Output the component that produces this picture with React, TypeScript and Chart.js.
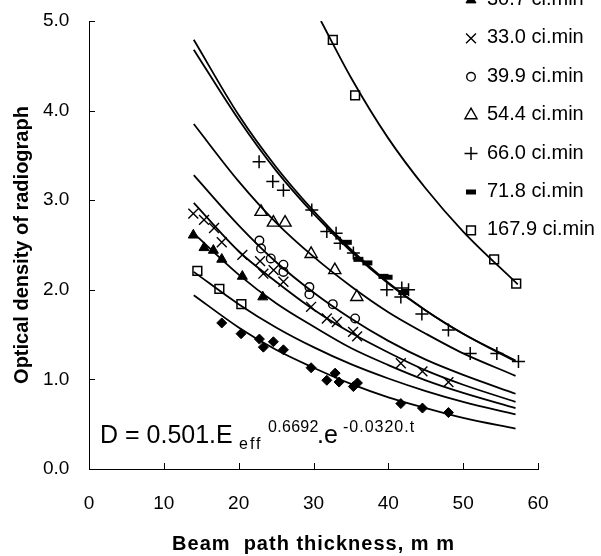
import React, { useEffect, useRef } from 'react';
import { Chart, registerables } from 'chart.js';

Chart.register(...registerables);

const FONT = "'Liberation Sans', Arial, Helvetica, sans-serif";

// axes
const X_TICKS = [0, 10, 20, 30, 40, 50, 60];
const Y_TICKS = [0, 1, 2, 3, 4, 5];

// measured points (t = beam path thickness mm, d = optical density)
const DIAMOND_T = [17.74, 20.32, 22.77, 23.3, 24.64, 25.98, 29.68, 31.78, 32.89, 33.42, 35.33, 35.87, 41.67, 44.56, 48.03];
const DIAMOND_D = [1.63, 1.51, 1.45, 1.36, 1.42, 1.33, 1.13, 0.99, 1.07, 0.97, 0.92, 0.96, 0.73, 0.68, 0.63];

const SQLOW_T = [14.48, 17.42, 20.36];
const SQLOW_D = [2.21, 2.01, 1.84];

const TRI_T = [13.94, 15.37, 16.62, 17.74, 20.49, 23.22];
const TRI_D = [2.61, 2.47, 2.44, 2.34, 2.15, 1.92];

const X_T = [13.94, 15.37, 16.71, 17.74, 20.49, 22.86, 23.3, 24.67, 25.98, 29.68, 31.78, 33.12, 35.29, 35.83, 41.67, 44.56, 48.03];
const X_D = [2.85, 2.78, 2.69, 2.53, 2.39, 2.32, 2.18, 2.22, 2.09, 1.81, 1.68, 1.64, 1.53, 1.48, 1.18, 1.09, 0.97];

const CIRC_T = [22.77, 22.99, 24.29, 25.98, 25.98, 29.45, 29.45, 32.58, 35.56];
const CIRC_D = [2.55, 2.46, 2.35, 2.28, 2.2, 2.03, 1.95, 1.84, 1.68];

const OTRI_T = [22.99, 24.64, 26.2, 29.68, 32.85, 35.79];
const OTRI_D = [2.87, 2.75, 2.75, 2.4, 2.22, 1.92];

const PLUS_T = [22.73, 24.56, 25.98, 29.77, 31.78, 33.02, 33.56, 35.33, 39.8, 41.8, 42.7, 41.67, 44.48, 48.03, 50.94, 54.5, 57.39];
const PLUS_D = [3.43, 3.21, 3.11, 2.89, 2.65, 2.63, 2.52, 2.41, 2.0, 2.02, 2.0, 1.92, 1.73, 1.55, 1.29, 1.29, 1.2];

const DASH_T = [34.45, 36.0, 37.2, 39.35, 39.9, 42.0];
const DASH_D = [2.53, 2.34, 2.3, 2.15, 2.14, 1.97];

const SQHI_T = [32.58, 35.56, 54.14, 57.09];
const SQHI_D = [4.79, 4.17, 2.34, 2.07];

// fitted curves
const CURVE_T = [14, 20, 25, 30, 35, 40, 45, 50, 57];
const CURVE_PLUS = [4.79, 3.95, 3.37, 2.88, 2.45, 2.08, 1.77, 1.51, 1.2];
const CURVE_DASH = [4.68, 3.9, 3.33, 2.85, 2.43, 2.07, 1.77, 1.51, 1.21];
const CURVE_OTRI = [3.85, 3.21, 2.75, 2.37, 2.04, 1.75, 1.51, 1.29, 1.04];
const CURVE_CIRC = [3.28, 2.72, 2.31, 1.97, 1.68, 1.43, 1.22, 1.05, 0.84];
const CURVE_X = [2.97, 2.43, 2.09, 1.78, 1.52, 1.3, 1.1, 0.94, 0.75];
const CURVE_TRI = [2.63, 2.17, 1.85, 1.59, 1.35, 1.16, 0.99, 0.85, 0.68];
const CURVE_SQLOW = [2.2, 1.84, 1.58, 1.36, 1.17, 1.01, 0.87, 0.75, 0.61];
const CURVE_DIAMOND = [1.94, 1.58, 1.33, 1.13, 0.95, 0.8, 0.68, 0.57, 0.45];
const CURVE_SQHI_T = [31, 35, 40, 45, 50, 57.3];
const CURVE_SQHI = [5.0, 4.37, 3.69, 3.13, 2.65, 2.06];

// legend (top entries are cut off above the picture)
const LEGEND_LABELS = ['30.7 ci.min', '33.0 ci.min', '39.9 ci.min', '54.4 ci.min', '66.0 ci.min', '71.8 ci.min', '167.9 ci.min'];

type Marker = { style: string; r: number; filled: boolean; bw: number };
const M_DIAMOND: Marker = { style: 'rectRot', r: 5, filled: true, bw: 1 };
const M_SQ: Marker = { style: 'rect', r: 6.2, filled: false, bw: 1.5 };
const M_TRI: Marker = { style: 'triangle', r: 5.8, filled: true, bw: 1 };
const M_X: Marker = { style: 'crossRot', r: 7, filled: false, bw: 1.4 };
const M_CIRC: Marker = { style: 'circle', r: 4.3, filled: false, bw: 1.4 };
const M_OTRI: Marker = { style: 'triangle', r: 7, filled: false, bw: 1.4 };
const M_PLUS: Marker = { style: 'cross', r: 6.5, filled: false, bw: 1.5 };
const M_DASH: Marker = { style: 'line', r: 5, filled: true, bw: 5 };

const LEGEND_MARKERS = [M_TRI, M_X, M_CIRC, M_OTRI, M_PLUS, M_DASH, M_SQ];

function pts(t: number[], d: number[]) {
  return t.map((v, i) => ({ x: v, y: d[i] }));
}

function pointDs(label: string, t: number[], d: number[], m: Marker) {
  return {
    type: 'scatter' as const,
    label,
    data: pts(t, d),
    showLine: false,
    pointStyle: m.style,
    pointRadius: m.r,
    pointBorderWidth: m.bw,
    pointBorderColor: '#000',
    pointBackgroundColor: m.filled ? '#000' : 'rgba(0,0,0,0)',
    borderColor: '#000',
    backgroundColor: m.filled ? '#000' : 'rgba(0,0,0,0)',
  };
}

function curveDs(label: string, t: number[], d: number[]) {
  return {
    type: 'line' as const,
    label,
    data: pts(t, d),
    showLine: true,
    pointRadius: 0,
    borderColor: '#000',
    borderWidth: 1.8,
    cubicInterpolationMode: 'monotone' as const,
    fill: false,
  };
}

function drawMarker(ctx: CanvasRenderingContext2D, m: Marker, x: number, y: number) {
  ctx.save();
  ctx.strokeStyle = '#000';
  ctx.fillStyle = '#000';
  ctx.lineWidth = m.bw;
  const r = m.r;
  ctx.beginPath();
  if (m.style === 'triangle') {
    ctx.moveTo(x, y - r);
    ctx.lineTo(x + r * 0.866, y + r * 0.5);
    ctx.lineTo(x - r * 0.866, y + r * 0.5);
    ctx.closePath();
  } else if (m.style === 'crossRot') {
    const o = r * 0.7071;
    ctx.moveTo(x - o, y - o); ctx.lineTo(x + o, y + o);
    ctx.moveTo(x + o, y - o); ctx.lineTo(x - o, y + o);
  } else if (m.style === 'cross') {
    ctx.moveTo(x - r, y); ctx.lineTo(x + r, y);
    ctx.moveTo(x, y - r); ctx.lineTo(x, y + r);
  } else if (m.style === 'circle') {
    ctx.arc(x, y, r, 0, Math.PI * 2);
  } else if (m.style === 'line') {
    ctx.moveTo(x - r, y); ctx.lineTo(x + r, y);
  } else if (m.style === 'rect') {
    const s = r * 0.7071;
    ctx.rect(x - s, y - s, 2 * s, 2 * s);
  } else if (m.style === 'rectRot') {
    ctx.moveTo(x - r, y); ctx.lineTo(x, y - r); ctx.lineTo(x + r, y); ctx.lineTo(x, y + r);
    ctx.closePath();
  }
  if (m.filled && m.style !== 'line') ctx.fill();
  ctx.stroke();
  ctx.restore();
}

const overlayPlugin = {
  id: 'overlay',
  afterDraw(chart: any) {
    const ctx: CanvasRenderingContext2D = chart.ctx;
    const xs = chart.scales.x;
    const ys = chart.scales.y;
    const ca = chart.chartArea;
    ctx.save();
    // inward tick marks
    ctx.strokeStyle = '#000';
    ctx.lineWidth = 1;
    ctx.beginPath();
    Y_TICKS.forEach((v) => {
      const py = Math.round(ys.getPixelForValue(v)) + 0.5;
      ctx.moveTo(ca.left, py);
      ctx.lineTo(ca.left + 6, py);
    });
    X_TICKS.forEach((v) => {
      const px = Math.round(xs.getPixelForValue(v)) + 0.5;
      ctx.moveTo(px, ca.bottom);
      ctx.lineTo(px, ca.bottom - 6);
    });
    ctx.stroke();

    // legend
    ctx.fillStyle = '#000';
    ctx.textAlign = 'left';
    ctx.textBaseline = 'middle';
    ctx.font = `20px ${FONT}`;
    LEGEND_LABELS.forEach((lab, i) => {
      const y = 0 + i * 38.4;
      drawMarker(ctx, LEGEND_MARKERS[i], 471, y);
      ctx.fillStyle = '#000';
      ctx.fillText(lab, 487, y - 0.5);
    });

    // equation
    ctx.textBaseline = 'alphabetic';
    ctx.font = `25px ${FONT}`;
    ctx.fillText('D = 0.501.E', 100, 443);
    ctx.font = `16px ${FONT}`;
    (ctx as any).letterSpacing = '2px';
    ctx.fillText('eff', 239, 449);
    (ctx as any).letterSpacing = '0.3px';
    ctx.fillText('0.6692', 268, 432);
    (ctx as any).letterSpacing = '0px';
    ctx.font = `25px ${FONT}`;
    ctx.fillText('.e', 317, 443);
    ctx.font = `16px ${FONT}`;
    (ctx as any).letterSpacing = '1px';
    ctx.fillText('-0.0320.t', 343, 432);

    // axis titles
    ctx.font = `bold 20px ${FONT}`;
    ctx.textAlign = 'center';
    ctx.textBaseline = 'middle';
    (ctx as any).letterSpacing = '1px';
    ctx.fillText('Beam  path thickness, m m', (ca.left + ca.right) / 2, 544);
    (ctx as any).letterSpacing = '0px';
    ctx.save();
    ctx.translate(22, (ca.top + ca.bottom) / 2);
    ctx.rotate(-Math.PI / 2);
    ctx.fillText('Optical density of radiograph', 0, 0);
    ctx.restore();
    ctx.restore();
  },
};

export default function App() {
  const ref = useRef<HTMLCanvasElement | null>(null);
  useEffect(() => {
    if (!ref.current) return;
    const chart = new Chart(ref.current, {
      type: 'scatter',
      data: {
        datasets: [
          pointDs('diamond', DIAMOND_T, DIAMOND_D, M_DIAMOND),
          pointDs('square', SQLOW_T, SQLOW_D, M_SQ),
          pointDs('30.7 ci.min', TRI_T, TRI_D, M_TRI),
          pointDs('33.0 ci.min', X_T, X_D, M_X),
          pointDs('39.9 ci.min', CIRC_T, CIRC_D, M_CIRC),
          pointDs('54.4 ci.min', OTRI_T, OTRI_D, M_OTRI),
          pointDs('66.0 ci.min', PLUS_T, PLUS_D, M_PLUS),
          pointDs('71.8 ci.min', DASH_T, DASH_D, M_DASH),
          pointDs('167.9 ci.min', SQHI_T, SQHI_D, M_SQ),
          curveDs('fit diamond', CURVE_T, CURVE_DIAMOND),
          curveDs('fit square', CURVE_T, CURVE_SQLOW),
          curveDs('fit 30.7', CURVE_T, CURVE_TRI),
          curveDs('fit 33.0', CURVE_T, CURVE_X),
          curveDs('fit 39.9', CURVE_T, CURVE_CIRC),
          curveDs('fit 54.4', CURVE_T, CURVE_OTRI),
          curveDs('fit 66.0', CURVE_T, CURVE_PLUS),
          curveDs('fit 71.8', CURVE_T, CURVE_DASH),
          curveDs('fit 167.9', CURVE_SQHI_T, CURVE_SQHI),
        ] as any,
      },
      options: {
        responsive: false,
        animation: false,
        layout: { padding: { left: 43, top: 21, right: 63, bottom: 0 } },
        plugins: {
          legend: { display: false },
          tooltip: { enabled: false },
          title: { display: false },
        },
        scales: {
          x: {
            type: 'linear',
            min: 0,
            max: 60,
            afterFit: (s: any) => { s.height = 87; },
            ticks: { stepSize: 10, color: '#000', font: { family: FONT, size: 19 }, padding: 23 },
            grid: { display: false, drawTicks: false },
            border: { display: true, color: '#000', width: 1 },
          },
          y: {
            type: 'linear',
            min: 0,
            max: 5,
            afterFit: (s: any) => { s.width = 46; },
            ticks: {
              stepSize: 1,
              color: '#000',
              font: { family: FONT, size: 19 },
              padding: 0,
              crossAlign: 'far',
              callback: (v: any) => Number(v).toFixed(1),
            },
            grid: { display: false, drawTicks: false },
            border: { display: true, color: '#000', width: 1 },
          },
        },
      } as any,
      plugins: [overlayPlugin],
    });
    return () => chart.destroy();
  }, []);
  return (
    <div style={{ position: 'fixed', left: 0, top: 0, width: 601, height: 556, background: '#fff' }}>
      <canvas ref={ref} width={601} height={556} />
    </div>
  );
}
